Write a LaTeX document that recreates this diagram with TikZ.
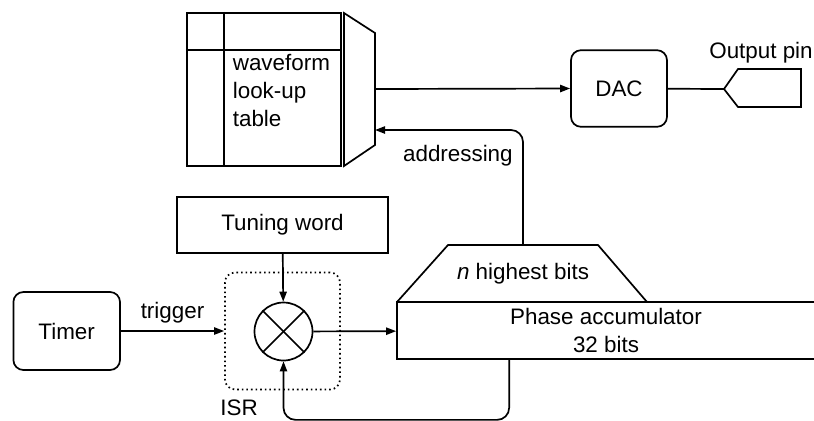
\documentclass[tikz,border=0pt]{standalone}
\usepackage{fontspec}
\setmainfont{Liberation Sans}
\usetikzlibrary{positioning, arrows.meta, calc}

\begin{document}
\begin{tikzpicture}[x=0.5pt, y=-0.5pt, line width=0.85pt, >={Triangle[length=5pt, width=3.6pt]},
    font=\fontsize{11.2pt}{14pt}\selectfont,
    block/.style={draw, rectangle, inner sep=0pt, align=center},
    rblock/.style={block, rounded corners=5pt},
    mixer/.style={draw, circle, minimum size=29pt, inner sep=0pt},
    isrbox/.style={draw, rectangle, rounded corners=5pt, dash pattern=on 0.8pt off 1.5pt, inner sep=0pt}]
    \useasboundingbox (0,0) rectangle (814,420);
    \clip (0,0) rectangle (814,420);

    % Nodes
    \node[block, minimum width=77pt, minimum height=76.5pt] (lut) at (263.7,89.2) {};
    \node[anchor=west, align=left, inner sep=0pt] (luttext) at (232,90) {waveform\\look-up\\table};
    \node[rblock, minimum width=48pt, minimum height=38.3pt] (dac) at (619,88.5) {DAC};
    \node (pinlabel) at (761,53) {Output pin};
    \node[block, minimum width=105.8pt, minimum height=28.3pt] (tuning) at (282.5,225) {Tuning word};
    \node[rblock, minimum width=53.3pt, minimum height=39pt] (timer) at (66.7,331) {Timer};
    \node[isrbox, minimum width=57.5pt, minimum height=58.5pt] (isr) at (282.5,331) {};
    \node (isrlabel) at (239,408) {ISR};
    \node[mixer] (mult) at (283.5,331.5) {};
    \node[block, minimum width=209pt, minimum height=28.5pt] (phase) at (606,330.5) {Phase accumulator\\32 bits};
    \node (highbits) at (523,274) {\textit{n} highest bits};

    % n highest bits slice on top of the accumulator
    \draw (397,302) -- (448,245) -- (598,245) -- (647,302);
    \coordinate (hbtop) at (523,245);

    % LUT grid and address multiplexer
    \draw ($(lut.north west)+(38,0)$) -- ($(lut.south west)+(38,0)$);
    \draw ($(lut.north west)+(0,38)$) -- ($(lut.north east)+(0,38)$);
    \draw (344,13) -- (375,33) -- (375,145) -- (344,166) -- cycle;
    \coordinate (muxout) at (375,89);
    \coordinate (muxin) at (375,130);

    % Output pin
    \draw (724,89) -- (738,69) -- (801,69) -- (801,107) -- (738,107) -- cycle;
    \coordinate (pin) at (724,89);

    % Mixer cross
    \draw (mult.north west) -- (mult.south east);
    \draw (mult.north east) -- (mult.south west);

    % Connectors
    \draw[->] (muxout) -- (dac.west);
    \draw (dac) -- (pin);
    \draw[->, rounded corners=6pt] (hbtop) |- (muxin) node[pos=0.72, below=4pt] {addressing};
    \draw[->] (timer) -- (isr) node[midway, above] {trigger};
    \draw[->] (tuning) -- (mult);
    \draw[->] (mult) -- (phase);
    \coordinate (fb) at ($(phase.south west)+(113,0)$);
    \draw[->, rounded corners=6pt] (fb) -- ++(0,60) -| (mult.south);
\end{tikzpicture}
\end{document}
